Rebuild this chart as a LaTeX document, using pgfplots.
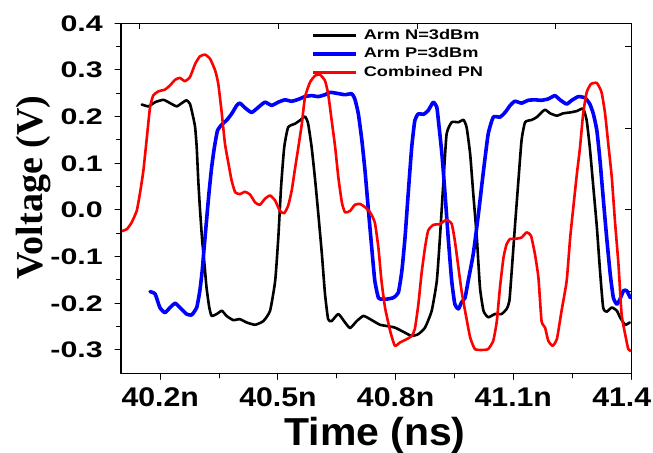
\documentclass[border=0pt]{standalone}
\usepackage{pgfplots}
\pgfplotsset{compat=1.18}
\usepackage{fontspec}
\setmainfont{Liberation Sans}
\newfontfamily\serifbf{Liberation Serif}
\usepackage{graphicx}
\newcommand{\tlx}[1]{\scalebox{1.12}[1]{#1}}
\newcommand{\tly}[1]{\scalebox{1.35}[1]{#1}}
\newcommand{\lgt}[1]{\scalebox{1.3}[1]{#1}}
\begin{document}
\begin{tikzpicture}
\useasboundingbox (-121bp,-79.7bp) rectangle (532bp,373.3bp);
\begin{axis}[
  at={(0,0)}, anchor=south west,
  scale only axis, width=510bp, height=350bp,
  xmin=40.1, xmax=41.4, ymin=-0.35, ymax=0.4,
  xtick={40.2,40.5,40.8,41.1,41.4},
  xticklabels={\tlx{40.2n},\tlx{40.5n},\tlx{40.8n},\tlx{41.1n},\tlx{41.4n}},
  ytick={-0.3,-0.2,-0.1,0,0.1,0.2,0.3,0.4},
  yticklabels={\tly{-0.3},\tly{-0.2},\tly{-0.1},\tly{0.0},\tly{0.1},\tly{0.2},\tly{0.3},\tly{0.4}},
  minor x tick num=1, minor y tick num=1,
  xtick pos=left, ytick pos=left,
  tick align=outside,
  major tick length=6bp, minor tick length=4.5bp,
  axis line style={line width=1bp},
  every tick/.style={line width=1bp, black},
  xticklabel style={font=\fontsize{27bp}{30bp}\selectfont\bfseries, anchor=base, inner sep=0pt, yshift=-27bp},
  yticklabel style={font=\fontsize{22.5bp}{26bp}\selectfont\bfseries, anchor=east, inner sep=0pt, xshift=-12bp},
  xlabel={\scalebox{1.05}[1]{Time (ns)}},
  xlabel style={font=\fontsize{39bp}{42bp}\selectfont\bfseries, at={(axis description cs:0.498,-0.205)}, anchor=base, inner sep=0pt},
  ylabel={Voltage (V)},
  ylabel style={font=\fontsize{38bp}{42bp}\serifbf\bfseries, at={(axis description cs:-0.1706,0.531)}, anchor=center, inner sep=0pt},
  legend style={at={(axis description cs:0.3725,0.984)}, anchor=north west, draw=none, fill=none, inner sep=0pt,
    row sep=5.6bp, column sep=6bp, font=\fontsize{14bp}{16bp}\selectfont\bfseries,
    nodes={inner sep=0pt, text height=10bp, text depth=3bp}},
  legend cell align=left,
  legend image code/.code={\draw[#1] (0bp,0bp) -- (43bp,0bp);},
  line join=round, line cap=round,
]
\addplot[black, line width=2.6bp, smooth, tension=0.3] coordinates {
(40.153,0.226)(40.170,0.222)(40.187,0.231)(40.208,0.236)(40.225,0.229)(40.242,0.222)(40.255,0.229)(40.267,0.235)(40.276,0.227)(40.284,0.199)(40.289,0.177)(40.293,0.134)(40.297,0.063)(40.301,0.006)(40.307,-0.066)(40.312,-0.109)(40.318,-0.166)(40.325,-0.209)(40.331,-0.227)(40.344,-0.223)(40.357,-0.216)(40.369,-0.227)(40.386,-0.236)(40.403,-0.234)(40.420,-0.241)(40.442,-0.246)(40.463,-0.238)(40.480,-0.216)(40.493,-0.152)(40.501,-0.059)(40.508,0.049)(40.516,0.134)(40.526,0.177)(40.544,0.185)(40.556,0.192)(40.569,0.200)(40.577,0.185)(40.586,0.134)(40.595,0.063)(40.603,-0.009)(40.612,-0.094)(40.620,-0.180)(40.628,-0.234)(40.637,-0.238)(40.654,-0.223)(40.671,-0.241)(40.684,-0.253)(40.701,-0.238)(40.718,-0.227)(40.735,-0.234)(40.760,-0.246)(40.773,-0.248)(40.798,-0.252)(40.824,-0.263)(40.841,-0.270)(40.858,-0.266)(40.875,-0.252)(40.892,-0.216)(40.905,-0.152)(40.913,-0.059)(40.922,0.063)(40.930,0.163)(40.943,0.188)(40.960,0.188)(40.973,0.193)(40.981,0.177)(40.990,0.120)(40.998,0.034)(41.007,-0.059)(41.015,-0.166)(41.024,-0.216)(41.036,-0.230)(41.053,-0.223)(41.070,-0.223)(41.083,-0.212)(41.090,-0.195)(41.096,-0.130)(41.104,-0.037)(41.113,0.063)(41.121,0.149)(41.130,0.188)(41.147,0.193)(41.160,0.199)(41.172,0.209)(41.181,0.215)(41.194,0.207)(41.211,0.202)(41.227,0.207)(41.245,0.209)(41.262,0.212)(41.278,0.217)(41.287,0.192)(41.295,0.134)(41.304,0.049)(41.313,-0.037)(41.321,-0.130)(41.329,-0.209)(41.338,-0.218)(41.351,-0.209)(41.364,-0.216)(41.372,-0.230)(41.385,-0.246)(41.397,-0.241)
};
\addlegendentry{\lgt{Arm N=3dBm}}
\addplot[blue, line width=3.6bp, smooth, tension=0.3] coordinates {
(40.174,-0.175)(40.187,-0.180)(40.199,-0.209)(40.212,-0.220)(40.225,-0.209)(40.238,-0.200)(40.250,-0.209)(40.267,-0.223)(40.280,-0.225)(40.293,-0.209)(40.301,-0.173)(40.307,-0.130)(40.312,-0.080)(40.318,-0.023)(40.324,0.034)(40.331,0.091)(40.338,0.134)(40.346,0.170)(40.357,0.183)(40.369,0.192)(40.382,0.206)(40.395,0.224)(40.403,0.229)(40.416,0.219)(40.433,0.209)(40.450,0.220)(40.467,0.231)(40.484,0.224)(40.501,0.231)(40.518,0.236)(40.535,0.233)(40.552,0.237)(40.569,0.243)(40.586,0.245)(40.603,0.243)(40.620,0.247)(40.633,0.252)(40.650,0.250)(40.671,0.247)(40.688,0.249)(40.696,0.238)(40.705,0.206)(40.714,0.149)(40.722,0.084)(40.730,0.006)(40.739,-0.080)(40.747,-0.152)(40.756,-0.188)(40.764,-0.191)(40.777,-0.191)(40.794,-0.188)(40.807,-0.177)(40.816,-0.130)(40.824,-0.059)(40.832,0.034)(40.841,0.134)(40.849,0.192)(40.858,0.206)(40.871,0.205)(40.883,0.213)(40.896,0.231)(40.905,0.220)(40.909,0.192)(40.918,0.120)(40.926,0.034)(40.934,-0.059)(40.943,-0.152)(40.951,-0.202)(40.960,-0.212)(40.968,-0.198)(40.977,-0.188)(40.985,-0.152)(40.998,-0.094)(41.011,-0.009)(41.024,0.084)(41.036,0.163)(41.049,0.199)(41.066,0.199)(41.079,0.209)(41.092,0.224)(41.104,0.233)(41.121,0.229)(41.138,0.235)(41.155,0.236)(41.172,0.235)(41.189,0.238)(41.206,0.245)(41.219,0.236)(41.236,0.227)(41.249,0.235)(41.266,0.243)(41.283,0.240)(41.295,0.227)(41.304,0.206)(41.313,0.170)(41.321,0.106)(41.329,0.027)(41.338,-0.059)(41.347,-0.137)(41.355,-0.188)(41.364,-0.202)(41.372,-0.191)(41.381,-0.173)(41.389,-0.173)(41.398,-0.188)
};
\addlegendentry{\lgt{Arm P=3dBm}}
\addplot[red, line width=2.6bp, smooth, tension=0.3] coordinates {
(40.100,-0.046)(40.115,-0.041)(40.127,-0.027)(40.140,-0.002)(40.148,0.034)(40.157,0.084)(40.166,0.156)(40.174,0.220)(40.182,0.245)(40.195,0.254)(40.212,0.258)(40.225,0.267)(40.238,0.279)(40.250,0.283)(40.263,0.276)(40.276,0.285)(40.289,0.313)(40.301,0.329)(40.314,0.333)(40.327,0.324)(40.340,0.299)(40.348,0.270)(40.357,0.206)(40.365,0.142)(40.374,0.099)(40.382,0.063)(40.391,0.038)(40.403,0.034)(40.416,0.039)(40.429,0.033)(40.442,0.016)(40.454,0.011)(40.467,0.024)(40.480,0.031)(40.493,0.020)(40.505,-0.002)(40.516,-0.007)(40.526,0.009)(40.535,0.041)(40.544,0.091)(40.552,0.134)(40.561,0.185)(40.569,0.242)(40.582,0.274)(40.595,0.288)(40.607,0.290)(40.620,0.277)(40.628,0.249)(40.637,0.192)(40.646,0.134)(40.654,0.070)(40.663,0.016)(40.671,-0.005)(40.684,-0.002)(40.696,0.011)(40.709,0.013)(40.722,0.006)(40.735,-0.005)(40.747,-0.027)(40.756,-0.080)(40.764,-0.152)(40.773,-0.209)(40.786,-0.259)(40.798,-0.291)(40.811,-0.284)(40.828,-0.277)(40.841,-0.270)(40.849,-0.255)(40.858,-0.202)(40.866,-0.137)(40.875,-0.080)(40.883,-0.044)(40.896,-0.032)(40.913,-0.030)(40.930,-0.021)(40.943,-0.030)(40.951,-0.066)(40.960,-0.123)(40.968,-0.173)(40.977,-0.216)(40.990,-0.273)(41.002,-0.298)(41.019,-0.300)(41.036,-0.298)(41.049,-0.280)(41.058,-0.238)(41.066,-0.166)(41.075,-0.102)(41.083,-0.073)(41.092,-0.062)(41.104,-0.062)(41.121,-0.059)(41.134,-0.048)(41.145,-0.055)(41.155,-0.094)(41.164,-0.145)(41.172,-0.238)(41.181,-0.252)(41.189,-0.280)(41.200,-0.291)(41.211,-0.277)(41.223,-0.216)(41.236,-0.152)(41.245,-0.059)(41.253,0.006)(41.262,0.077)(41.270,0.134)(41.278,0.206)(41.287,0.252)(41.298,0.270)(41.313,0.272)(41.325,0.252)(41.334,0.206)(41.342,0.142)(41.351,0.070)(41.359,-0.023)(41.368,-0.116)(41.376,-0.223)(41.385,-0.266)(41.393,-0.298)(41.400,-0.302)
};
\addlegendentry{\lgt{Combined PN}}
\end{axis}
\begin{axis}[
  at={(0,0)}, anchor=south west,
  scale only axis, width=510bp, height=350bp,
  xmin=40.1, xmax=41.4, ymin=-0.35, ymax=0.4,
  xtick={40.148,40.501,40.856,41.208},
  ytick={-0.35,-0.175,0,0.175,0.35},
  xticklabels={}, yticklabels={},
  xtick pos=right, ytick pos=right,
  tick align=inside,
  major tick length=6bp,
  axis line style={line width=1bp},
  every tick/.style={line width=1bp, black},
]
\end{axis}
\end{tikzpicture}
\end{document}
